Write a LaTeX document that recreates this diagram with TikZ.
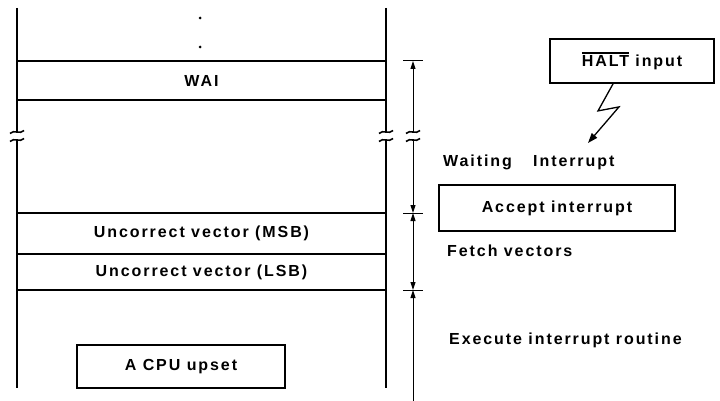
\documentclass[tikz,border=0pt]{standalone}
\usepackage{fontspec}
\setmainfont[LetterSpace=12]{Liberation Sans}
\usetikzlibrary{arrows.meta}

\tikzset{
  stackline/.style={line width=1.8pt},
  framebox/.style={draw,line width=1.8pt,inner sep=0pt},
  dimline/.style={line width=1pt},
  dimtip/.style={-{Triangle[length=8pt,width=5pt]}},
  dimtips/.style={{Triangle[length=8pt,width=5pt]}-{Triangle[length=8pt,width=5pt]}},
  plaintext/.style={anchor=base west,inner sep=0pt}
}

\begin{document}
\begin{tikzpicture}[x=1pt,y=-1pt,font=\fontsize{16}{19}\selectfont\bfseries]
\useasboundingbox (0,0) rectangle (720,401);
% memory stack
\foreach \x in {17,386}{
  \draw[stackline] (\x,8)--(\x,132);
  \draw[stackline] (\x,140)--(\x,388);
}
\foreach \y in {61,100,213,254,290}
  \draw[stackline] (17,\y)--(386,\y);
\fill (200,18) circle (1.5) (200,47) circle (1.5);
\node (wai) at (201.5,80.5) {WAI};
\node (msb) at (201.5,233.5) {Uncorrect vector (MSB)};
\node (lsb) at (201.5,272) {Uncorrect vector (LSB)};
\node[framebox,minimum width=208pt,minimum height=43pt] (upset) at (181,366.5) {A CPU upset};
% break marks
\foreach \x in {17,386,413}
  \foreach \y in {132,140}
    \draw[line width=1.6pt] (\x-7,\y+1.5) .. controls (\x-3,\y-3) and (\x+3,\y+3) .. (\x+7,\y-1.5);
% time scale
\foreach \y in {61,213,290}
  \draw[dimline] (403,\y)--(423,\y);
\draw[dimline,dimtip] (413,132)--(413,61);
\draw[dimline,dimtip] (413,140)--(413,213);
\draw[dimline,dimtips] (413,213)--(413,290);
\draw[dimline,dimtip] (413,401)--(413,290);
% events
\node[framebox,minimum width=164pt,minimum height=44pt] (halt) at (632,61) {\vbox{\hrule height 1.3pt\kern1.5pt\hbox{HALT}} input};
\node[framebox,minimum width=236pt,minimum height=46pt] (accept) at (557,208) {Accept interrupt};
\node[plaintext] (waiting) at (443,167) {Waiting};
\node[plaintext] (irq) at (533,167) {Interrupt};
\node[plaintext] (fetch) at (447,256) {Fetch vectors};
\node[plaintext] (exec) at (449,344) {Execute interrupt routine};
\coordinate (hit) at (588,143);
\draw[line width=1.3pt,-{Triangle[length=10pt,width=7pt]}] ([xshift=-19pt]halt.south) -- ++(-15,27) -- ++(21,-4) -- (hit);
\end{tikzpicture}
\end{document}
